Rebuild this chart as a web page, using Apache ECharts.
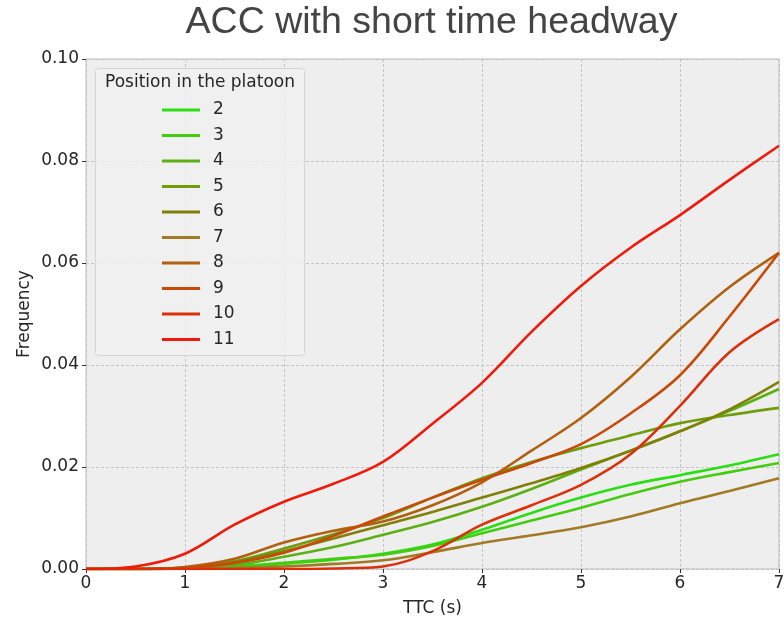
<!DOCTYPE html>
<html>
<head>
<meta charset="utf-8">
<script src="https://cdn.jsdelivr.net/npm/echarts@6/dist/echarts.min.js"></script>
<style>
  html, body { margin: 0; padding: 0; background: #fff; }
  #chart { width: 784px; height: 620px; }
</style>
</head>
<body>
<div id="chart"></div>
<script>
// TTC sample positions (s)
const ttc = [0, 0.5, 1, 1.5, 2, 2.5, 3, 3.5, 4, 4.5, 5, 5.5, 6, 6.5, 7]

// frequency per position in the platoon
const pos2 = [0, 0, 0.0001, 0.0004, 0.001, 0.0018, 0.003, 0.0048, 0.0077, 0.011, 0.014, 0.0165, 0.0184, 0.0203, 0.0225]
const pos3 = [0, 0, 0.0001, 0.0005, 0.0012, 0.002, 0.0028, 0.0045, 0.007, 0.0095, 0.012, 0.0147, 0.0171, 0.019, 0.0208]
const pos4 = [0, 0, 0.0002, 0.0008, 0.0024, 0.0043, 0.0067, 0.0092, 0.0122, 0.0157, 0.0195, 0.0232, 0.027, 0.031, 0.0353]
const pos5 = [0, 0, 0.0003, 0.0015, 0.004, 0.0068, 0.01, 0.014, 0.0178, 0.021, 0.0237, 0.0262, 0.0286, 0.0302, 0.0316]
const pos6 = [0, 0, 0.0003, 0.0013, 0.0035, 0.006, 0.0086, 0.0112, 0.014, 0.0168, 0.0198, 0.0232, 0.027, 0.0313, 0.0367]
const pos7 = [0, 0, 0, 0.0002, 0.0005, 0.001, 0.0017, 0.0033, 0.0051, 0.0066, 0.0082, 0.0103, 0.0129, 0.0153, 0.0178]
const pos8 = [0, 0, 0.0004, 0.002, 0.0052, 0.0075, 0.0093, 0.0125, 0.017, 0.0232, 0.0296, 0.0376, 0.047, 0.0553, 0.062]
const pos9 = [0, 0, 0.0002, 0.0012, 0.0032, 0.0065, 0.0103, 0.014, 0.0175, 0.0208, 0.0245, 0.0305, 0.038, 0.0495, 0.062]
const pos10 = [0, 0, 0, 0, 0, 0.0001, 0.0005, 0.0035, 0.0087, 0.0125, 0.0165, 0.0225, 0.032, 0.0425, 0.049]
const pos11 = [0, 0.0005, 0.003, 0.0087, 0.0132, 0.0167, 0.021, 0.0285, 0.0365, 0.0465, 0.0555, 0.063, 0.0694, 0.0763, 0.083]

const positionNames = ['2', '3', '4', '5', '6', '7', '8', '9', '10', '11']
const positionValues = [pos2, pos3, pos4, pos5, pos6, pos7, pos8, pos9, pos10, pos11]
const positionColors = ['#2ade14', '#45cc10', '#5cb014', '#6e9c0c', '#808008', '#a07a24', '#b0600e', '#c84a08', '#dc300a', '#f01a0a']

const xTicks = [0, 1, 2, 3, 4, 5, 6, 7]
const yTickLabels = ['0.00', '0.02', '0.04', '0.06', '0.08', '0.10']

const chart = echarts.init(document.getElementById('chart'))

const font = 'DejaVu Sans'

const series = positionNames.map((name, i) => ({
    name: name,
    type: 'line',
    data: ttc.map((t, j) => [t, positionValues[i][j]]),
    smooth: 0.35,
    showSymbol: false,
    lineStyle: { color: positionColors[i], width: 2.6 },
    itemStyle: { color: positionColors[i] },
    emphasis: { disabled: true },
    z: 3 + i
}))

const option = {
    animation: false,
    backgroundColor: '#ffffff',
    grid: {
        left: 86,
        right: 5,
        top: 59,
        bottom: 51,
        outerBoundsMode: 'none',
        show: true,
        backgroundColor: '#eeeeee',
        borderColor: '#bcbcbc',
        borderWidth: 1
    },
    xAxis: {
        type: 'value',
        min: 0,
        max: 7,
        interval: 1,
        name: 'TTC (s)',
        nameLocation: 'middle',
        nameGap: 31,
        nameMoveOverlap: false,
        nameTextStyle: { fontFamily: font, fontSize: 17, color: '#262626' },
        axisLine: { show: false },
        axisTick: { show: true, length: 4, lineStyle: { color: '#333' } },
        axisLabel: {
            fontFamily: font, fontSize: 17, color: '#262626', margin: 6,
            formatter: v => (xTicks.includes(v) ? String(v) : '')
        },
        splitLine: { show: true, lineStyle: { color: '#c4c4c4', width: 1, type: [3, 2] } }
    },
    yAxis: {
        type: 'value',
        min: 0,
        max: 0.1,
        interval: 0.02,
        name: 'Frequency',
        nameLocation: 'middle',
        nameGap: 53,
        nameMoveOverlap: false,
        nameTextStyle: { fontFamily: font, fontSize: 17, color: '#262626' },
        axisLine: { show: false },
        axisTick: { show: true, length: 4, lineStyle: { color: '#333' } },
        axisLabel: {
            fontFamily: font, fontSize: 17, color: '#262626', margin: 7,
            formatter: v => yTickLabels[Math.round(v / 0.02)]
        },
        splitLine: { show: true, lineStyle: { color: '#c4c4c4', width: 1, type: [3, 2] } }
    },
    legend: {
        orient: 'vertical',
        left: 162,
        top: 101,
        padding: 0,
        z: 100,
        itemWidth: 38,
        itemHeight: 3,
        itemGap: 7.5,
        icon: 'rect',
        data: positionNames,
        selectedMode: false,
        textStyle: { fontFamily: font, fontSize: 17, color: '#262626', lineHeight: 18, padding: [0, 0, 0, 8] }
    },
    graphic: [
        {
            type: 'rect',
            left: 95,
            top: 68,
            z: 50,
            shape: { width: 209, height: 287, r: 3 },
            style: { fill: 'rgba(240,240,240,0.85)', stroke: '#d4d4d4', lineWidth: 1 }
        },
        {
            type: 'text',
            x: 200,
            y: 83,
            z: 51,
            style: {
                text: 'Position in the platoon',
                fontFamily: font,
                fontSize: 17,
                fill: '#262626',
                align: 'center',
                verticalAlign: 'middle'
            }
        },
        {
            type: 'text',
            x: 431.5,
            y: 23,
            z: 51,
            style: {
                text: 'ACC with short time headway',
                fontFamily: 'Liberation Sans',
                fontSize: 37.5,
                fill: '#444444',
                align: 'center',
                verticalAlign: 'middle'
            }
        }
    ],
    series: series
}

chart.setOption(option)
</script>
</body>
</html>
